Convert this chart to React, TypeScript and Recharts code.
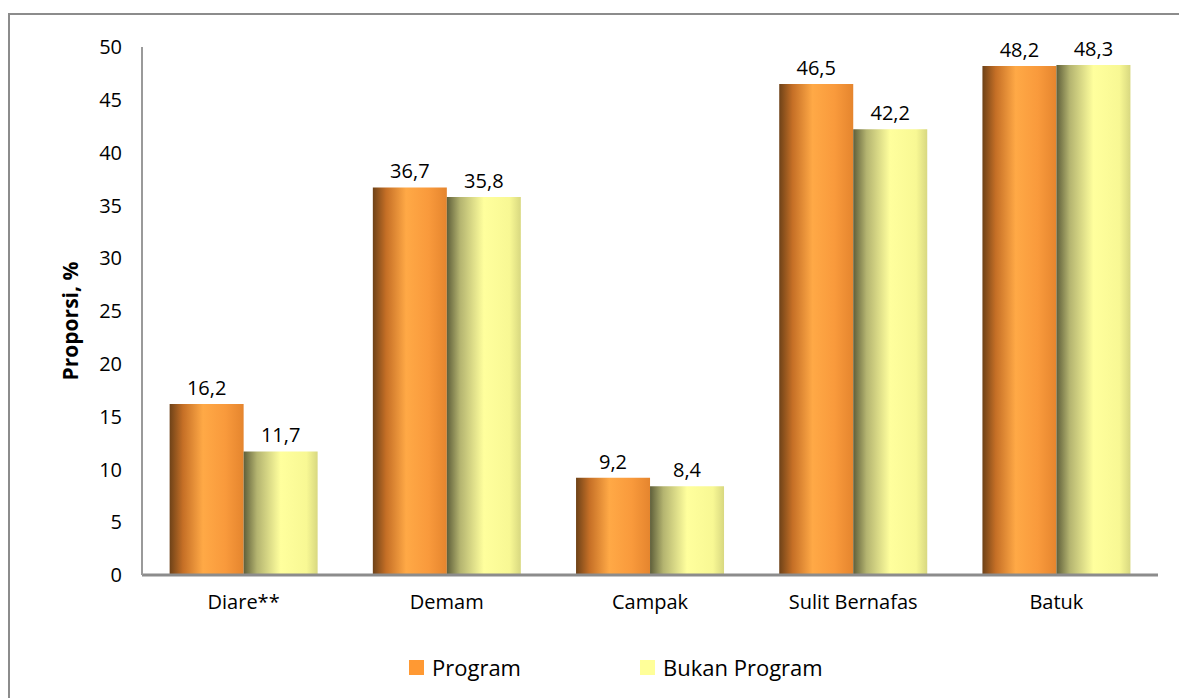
import React from 'react';
import { BarChart, Bar, XAxis, YAxis, LabelList } from 'recharts';

const categories = ['Diare**', 'Demam', 'Campak', 'Sulit Bernafas', 'Batuk'];
const programValues = [16.2, 36.7, 9.2, 46.5, 48.2];
const bukanProgramValues = [11.7, 35.8, 8.4, 42.2, 48.3];
const yTicks = [0, 5, 10, 15, 20, 25, 30, 35, 40, 45, 50];
const seriesNames = ['Program', 'Bukan Program'];
const yTitle = 'Proporsi, %';

const data = categories.map((name, i) => ({
  name,
  program: programValues[i],
  bukan: bukanProgramValues[i],
}));

const FONT = '"Open Sans", Lato, sans-serif';
const fmt = (v: number) => v.toFixed(1).replace('.', ',');

// rotated axis title, nudged a bit below the plot's middle
function YTitle({ viewBox }: any) {
  const x = viewBox.x + 62;
  const y = viewBox.y + viewBox.height / 2 + 10;
  return (
    <text
      x={x}
      y={y}
      transform={`rotate(-90, ${x}, ${y})`}
      textAnchor="middle"
      dominantBaseline="central"
      style={{ fontSize: 21, fontWeight: 700, fill: '#000', fontFamily: FONT }}
    >
      {yTitle}
    </text>
  );
}

export default function App() {
  return (
    <div
      style={{
        position: 'relative',
        marginTop: 5,
        width: 1179,
        height: 685,
        borderLeft: '2px solid #8c8c8c',
        borderTop: '2px solid #8c8c8c',
        boxSizing: 'border-box',
        background: '#fff',
        fontFamily: FONT,
      }}
    >
      <div style={{ position: 'absolute', left: -2, top: -2 }}>
        <BarChart
          width={1179}
          height={610}
          data={data}
          margin={{ top: 34, right: 29, left: 0, bottom: 0 }}
          barCategoryGap="13.6%"
          barGap={0}
        >
          <defs>
            <linearGradient id="gradProgram" x1="0" y1="0" x2="1" y2="0">
              <stop offset="0%" stopColor="#6e4218" />
              <stop offset="18%" stopColor="#c56f26" />
              <stop offset="45%" stopColor="#ffa946" />
              <stop offset="75%" stopColor="#f99a3c" />
              <stop offset="100%" stopColor="#e5852e" />
            </linearGradient>
            <linearGradient id="gradBukan" x1="0" y1="0" x2="1" y2="0">
              <stop offset="0%" stopColor="#5f5f3a" />
              <stop offset="18%" stopColor="#b4b470" />
              <stop offset="50%" stopColor="#ffff9d" />
              <stop offset="85%" stopColor="#f8f894" />
              <stop offset="100%" stopColor="#d8d880" />
            </linearGradient>
          </defs>
          <XAxis
            dataKey="name"
            height={48}
            tickLine={false}
            axisLine={{ stroke: '#8c8c8c', strokeWidth: 3 }}
            tick={{ fill: '#000', fontSize: 20, fontFamily: FONT }}
            tickMargin={14}
          />
          <YAxis
            width={134}
            domain={[0, 50]}
            ticks={yTicks}
            interval={0}
            tickLine={false}
            axisLine={{ stroke: '#9a9a9a', strokeWidth: 2 }}
            tick={{ fill: '#000', fontSize: 20, fontFamily: FONT }}
            tickMargin={14}
            label={<YTitle />}
          />
          <Bar dataKey="program" name={seriesNames[0]} fill="url(#gradProgram)" isAnimationActive={false}>
            <LabelList
              dataKey="program"
              position="top"
              offset={9}
              formatter={(v: any) => fmt(Number(v))}
              style={{ fill: '#000', fontSize: 20, fontFamily: FONT }}
            />
          </Bar>
          <Bar dataKey="bukan" name={seriesNames[1]} fill="url(#gradBukan)" isAnimationActive={false}>
            <LabelList
              dataKey="bukan"
              position="top"
              offset={9}
              formatter={(v: any) => fmt(Number(v))}
              style={{ fill: '#000', fontSize: 20, fontFamily: FONT }}
            />
          </Bar>
        </BarChart>
      </div>
      {/* legend */}
      <div
        style={{
          position: 'absolute',
          top: 638,
          left: 399,
          display: 'flex',
          alignItems: 'center',
          fontSize: 22,
          color: '#000',
          lineHeight: '28px',
        }}
      >
        <span style={{ width: 15, height: 15, background: '#ff9933', marginRight: 8 }} />
        <span style={{ width: 208 }}>{seriesNames[0]}</span>
        <span style={{ width: 15, height: 15, background: '#ffff99', marginRight: 8 }} />
        <span>{seriesNames[1]}</span>
      </div>
    </div>
  );
}
